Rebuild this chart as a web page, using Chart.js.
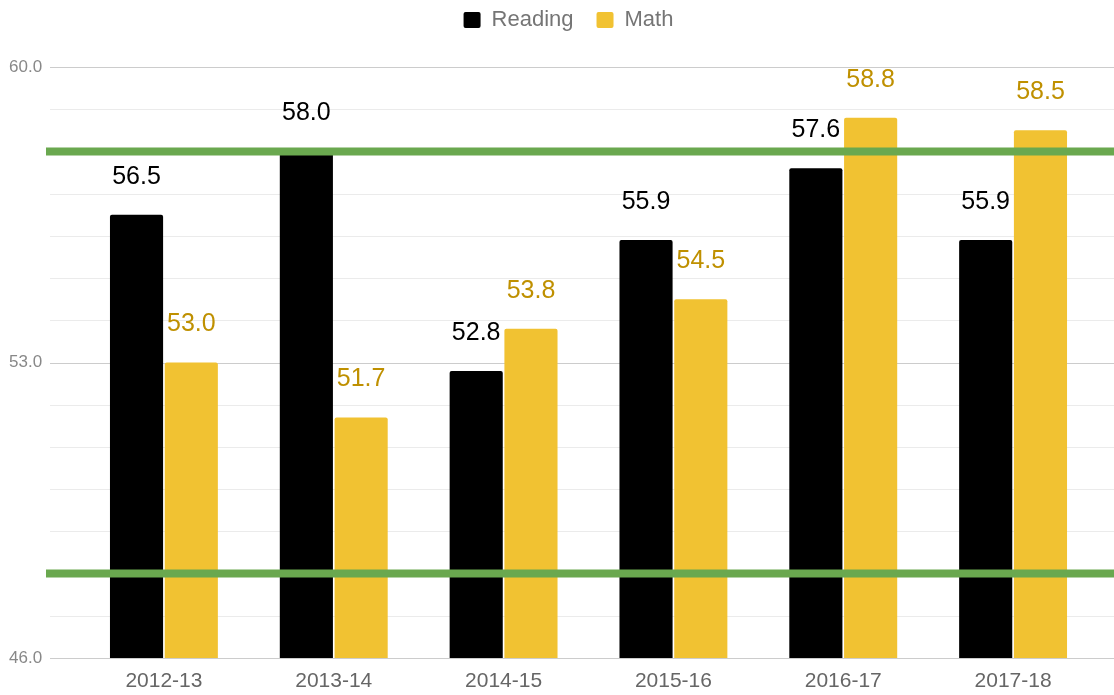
<!DOCTYPE html>
<html>
<head>
<meta charset="utf-8">
<script src="https://cdn.jsdelivr.net/npm/chart.js@4.4.1/dist/chart.umd.min.js"></script>
<style>
  html, body { margin: 0; padding: 0; background: #fff; overflow: hidden; }
  canvas { display: block; }
</style>
</head>
<body>
<canvas id="chart" width="1114" height="695"></canvas>
<script>
const years = ['2012-13', '2013-14', '2014-15', '2015-16', '2016-17', '2017-18'];
const reading = [56.5, 58.0, 52.8, 55.9, 57.6, 55.9];
const math = [53.0, 51.7, 53.8, 54.5, 58.8, 58.5];
const yLabelled = [46, 53, 60];
const targetLines = [58, 48];

const FONT = '"Liberation Sans", Arial, sans-serif';

// grid lines reach past the chart area, like the original
const gridPlugin = {
  id: 'grid',
  beforeDatasetsDraw(chart) {
    const { ctx, scales: { y } } = chart;
    ctx.save();
    y.ticks.forEach(t => {
      const py = Math.round(y.getPixelForValue(t.value)) + 0.5;
      ctx.strokeStyle = yLabelled.includes(t.value) ? '#cccccc' : '#ebebeb';
      ctx.lineWidth = 1;
      ctx.beginPath();
      ctx.moveTo(50, py);
      ctx.lineTo(chart.width, py);
      ctx.stroke();
    });
    ctx.restore();
  }
};

const targetPlugin = {
  id: 'targets',
  afterDatasetsDraw(chart) {
    const { ctx, scales: { y } } = chart;
    ctx.save();
    ctx.strokeStyle = '#6aa84f';
    ctx.lineWidth = 8;
    targetLines.forEach(v => {
      const py = y.getPixelForValue(v);
      ctx.beginPath();
      ctx.moveTo(46, py);
      ctx.lineTo(chart.width, py);
      ctx.stroke();
    });
    ctx.restore();
  }
};

const valuePlugin = {
  id: 'values',
  afterDatasetsDraw(chart) {
    const { ctx } = chart;
    ctx.save();
    ctx.font = '25px ' + FONT;
    ctx.textAlign = 'center';
    ctx.textBaseline = 'middle';
    chart.data.datasets.forEach((ds, i) => {
      ctx.fillStyle = ds.labelColor;
      chart.getDatasetMeta(i).data.forEach((bar, j) => {
        ctx.fillText(ds.data[j].toFixed(1), bar.x, bar.y - 38);
      });
    });
    ctx.restore();
  }
};

const legendSpace = {
  id: 'legendSpace',
  beforeInit(chart) {
    const fit = chart.legend.fit;
    chart.legend.fit = function () {
      fit.call(this);
      this.height = 81;
    };
  },
  afterLayout(chart) {
    // the original legend sits a bit right of centre
    chart.legend.left += 15;
    chart.legend.right += 15;
  }
};

new Chart(document.getElementById('chart'), {
  type: 'bar',
  data: {
    labels: years,
    datasets: [
      { label: 'Reading', data: reading, backgroundColor: '#000000', labelColor: '#000000', borderRadius: 2 },
      { label: 'Math', data: math, backgroundColor: '#f1c232', labelColor: '#bf9000', borderRadius: 2 }
    ]
  },
  options: {
    responsive: false,
    animation: false,
    devicePixelRatio: 1,
    layout: { padding: { left: 9, right: 16, top: -14, bottom: 0 } },
    datasets: { bar: { categoryPercentage: 0.645, barPercentage: 0.97 } },
    plugins: {
      legend: {
        position: 'top',
        labels: {
          font: { family: FONT, size: 22 },
          color: '#757575',
          boxWidth: 17,
          boxHeight: 16,
          padding: 23,
          useBorderRadius: true,
          borderRadius: 2
        }
      },
      tooltip: { enabled: false }
    },
    scales: {
      x: {
        grid: { display: false, drawTicks: false },
        border: { display: false },
        ticks: { font: { family: FONT, size: 21 }, color: '#666666', padding: 11 },
        afterFit: s => { s.height = 37; }
      },
      y: {
        min: 46,
        max: 60,
        grid: { display: false, drawTicks: false },
        border: { display: false },
        ticks: {
          stepSize: 1,
          autoSkip: false,
          padding: 0,
          crossAlign: 'far',
          font: { family: FONT, size: 17 },
          color: '#888888',
          callback: v => yLabelled.includes(v) ? v.toFixed(1) : ''
        },
        afterFit: s => { s.width = 70; }
      }
    }
  },
  plugins: [gridPlugin, targetPlugin, valuePlugin, legendSpace]
});
</script>
</body>
</html>
